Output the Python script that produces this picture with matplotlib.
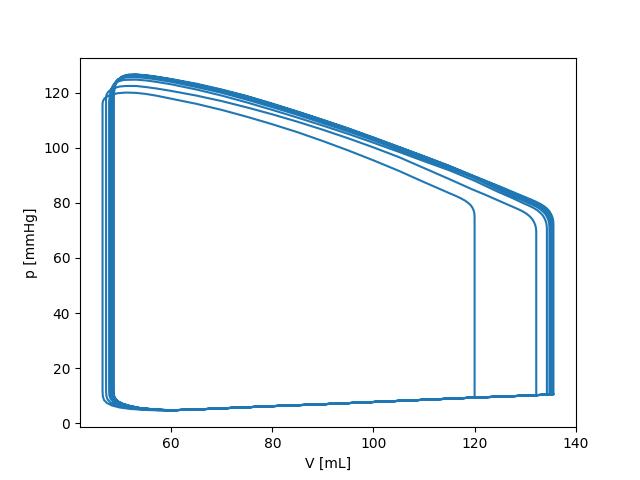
#!/usr/bin/env python3
"""
Pressure-volume loops of the left ventricle, settling into a steady cycle.

Usage:
    python3 plot.py
"""

import matplotlib

matplotlib.use("Agg")
import matplotlib.pyplot as plt

# End-diastolic / end-systolic volumes per beat [mL]
EDV = [120.0, 132.2, 134.3, 134.8, 135.1, 135.3, 135.5, 135.6]
ESV = [46.4, 47.1, 47.7, 48.0, 48.2, 48.4, 48.5, 48.6]
# pressure where isovolumic contraction starts [mmHg]
P_ED = [9.3, 10.2, 10.35, 10.4, 10.45, 10.45, 10.5, 10.5]

# ejection, right-hand corner (V falling from EDV)
V_CORNER_R = [
    [120.0, 119.95, 119.8, 119.55, 119.2, 118.7, 118.1, 117.3, 116.4],
    [132.2, 132.15, 132.0, 131.75, 131.4, 130.9, 130.3, 129.5, 128.6, 127.6, 125.0, 122.0, 119.5],
    [134.3, 134.25, 134.1, 133.85, 133.5, 133.0, 132.4, 131.6, 130.7, 129.7, 127.5, 124.5, 120.0],
    [134.8, 134.75, 134.6, 134.35, 134.0, 133.5, 132.9, 132.1, 131.2, 130.2, 127.9, 124.7, 120.0],
    [135.1, 135.05, 134.9, 134.65, 134.3, 133.8, 133.2, 132.4, 131.5, 130.5, 128.1, 124.8, 120.0],
    [135.3, 135.25, 135.1, 134.85, 134.5, 134.0, 133.4, 132.6, 131.7, 130.7, 128.3, 124.9, 120.0],
    [135.5, 135.45, 135.3, 135.05, 134.7, 134.2, 133.6, 132.8, 131.9, 130.9, 128.4, 125.0, 120.0],
    [135.6, 135.55, 135.4, 135.15, 134.8, 134.3, 133.7, 132.9, 132.0, 131.0, 128.5, 125.0, 120.0],
]
P_CORNER_R = [
    [75.0, 76.2, 77.3, 78.3, 79.2, 80.0, 80.8, 81.6, 82.4],
    [69.5, 70.7, 71.9, 73.0, 74.1, 75.1, 76.0, 76.9, 77.7, 78.5, 80.6, 83.0, 84.9],
    [70.8, 72.0, 73.2, 74.3, 75.4, 76.4, 77.3, 78.2, 79.0, 79.8, 81.7, 84.1, 88.0],
    [71.3, 72.5, 73.7, 74.8, 75.9, 76.9, 77.8, 78.7, 79.5, 80.3, 82.2, 84.8, 88.9],
    [71.7, 72.9, 74.1, 75.2, 76.3, 77.3, 78.2, 79.1, 79.9, 80.7, 82.6, 85.3, 89.2],
    [71.9, 73.1, 74.3, 75.4, 76.5, 77.5, 78.4, 79.3, 80.1, 80.9, 82.8, 85.5, 89.4],
    [72.1, 73.3, 74.5, 75.6, 76.7, 77.7, 78.6, 79.5, 80.3, 81.1, 83.0, 85.7, 89.5],
    [72.3, 73.5, 74.7, 75.8, 76.9, 77.9, 78.8, 79.7, 80.5, 81.3, 83.2, 85.9, 89.6],
]

# ejection, middle stretch on a shared volume grid
V_MID = [115, 110, 105, 100, 95, 90, 85, 80, 75, 70, 65, 60, 57, 55, 53]
P_MID = [
    [83.5, 87.5, 91.6, 95.4, 99.0, 102.4, 105.6, 108.5, 111.2, 113.7, 115.9, 117.8, 118.9, 119.5, 119.9],
    [88.6, 92.6, 96.6, 100.1, 103.4, 106.5, 109.4, 112.1, 114.6, 116.9, 118.9, 120.6, 121.5, 122.0, 122.4],
    [91.8, 95.1, 98.5, 101.8, 105.0, 108.0, 110.9, 113.7, 116.4, 118.9, 121.1, 123.0, 123.9, 124.4, 124.7],
    [92.6, 95.9, 99.3, 102.7, 105.9, 108.9, 111.9, 114.7, 117.4, 119.9, 122.0, 123.9, 124.8, 125.3, 125.6],
    [93.0, 96.3, 99.7, 103.1, 106.3, 109.4, 112.4, 115.1, 117.9, 120.3, 122.5, 124.3, 125.2, 125.7, 126.0],
    [93.2, 96.6, 100.0, 103.4, 106.6, 109.7, 112.7, 115.6, 118.3, 120.7, 122.8, 124.6, 125.5, 126.0, 126.3],
    [93.3, 96.8, 100.2, 103.6, 106.9, 110.0, 113.0, 115.8, 118.6, 120.9, 123.0, 124.8, 125.7, 126.2, 126.5],
    [93.4, 96.9, 100.3, 103.7, 107.0, 110.1, 113.1, 116.0, 118.7, 121.1, 123.2, 124.9, 125.8, 126.3, 126.6],
]

# end of ejection, left-hand corner (down to ESV)
V_CORNER_L = [
    [51.0, 49.5, 48.3, 47.4, 46.8, 46.5, 46.4],
    [51.0, 49.8, 48.8, 48.0, 47.5, 47.2, 47.1],
    [50.6, 49.6, 48.7, 48.1, 47.85, 47.7],
    [50.9, 49.9, 49.0, 48.4, 48.15, 48.0],
    [51.1, 50.1, 49.2, 48.6, 48.35, 48.2],
    [51.3, 50.3, 49.4, 48.8, 48.55, 48.4],
    [51.4, 50.4, 49.5, 48.9, 48.65, 48.5],
    [51.5, 50.5, 49.6, 49.0, 48.75, 48.6],
]
P_CORNER_L = [
    [120.0, 119.8, 119.3, 118.7, 117.9, 117.0, 116.0],
    [122.4, 122.2, 121.7, 121.0, 120.2, 119.3, 118.3],
    [124.6, 124.1, 123.0, 121.3, 119.1, 116.6],
    [125.5, 125.0, 123.9, 122.2, 120.0, 117.5],
    [125.9, 125.4, 124.3, 122.6, 120.4, 117.9],
    [126.2, 125.7, 124.6, 122.9, 120.7, 118.2],
    [126.4, 125.9, 124.8, 123.1, 120.9, 118.4],
    [126.5, 126.0, 124.9, 123.2, 121.0, 118.5],
]

# end of isovolumic relaxation, bending into filling
V_CORNER_B = [
    [46.4, 46.45, 46.7, 47.3, 48.3, 49.8, 51.8, 54.5, 57.5],
    [47.1, 47.15, 47.4, 48.0, 49.0, 50.5, 52.5, 55.0, 57.5],
    [47.7, 47.75, 48.0, 48.6, 49.6, 51.1, 53.0, 55.5, 57.5],
    [48.0, 48.05, 48.3, 48.9, 49.9, 51.4, 53.3, 55.7, 57.5],
    [48.2, 48.25, 48.5, 49.1, 50.1, 51.6, 53.5, 55.8, 57.5],
    [48.4, 48.45, 48.7, 49.3, 50.3, 51.8, 53.7, 56.0, 57.5],
    [48.5, 48.55, 48.8, 49.4, 50.4, 51.9, 53.8, 56.1, 57.5],
    [48.6, 48.65, 48.9, 49.5, 50.5, 52.0, 53.9, 56.2, 57.5],
]
P_CORNER_B = [
    [12.0, 9.8, 8.4, 7.3, 6.4, 5.7, 5.2, 4.85, 4.65],
    [12.0, 10.0, 8.6, 7.5, 6.6, 5.9, 5.3, 4.95, 4.75],
    [12.0, 10.1, 8.8, 7.7, 6.8, 6.0, 5.4, 5.0, 4.8],
    [12.0, 10.2, 8.9, 7.8, 6.9, 6.1, 5.45, 5.05, 4.85],
    [12.0, 10.2, 8.9, 7.8, 6.9, 6.1, 5.5, 5.1, 4.85],
    [12.0, 10.3, 9.0, 7.9, 7.0, 6.2, 5.5, 5.1, 4.9],
    [12.0, 10.3, 9.0, 7.9, 7.0, 6.2, 5.5, 5.1, 4.9],
    [12.0, 10.3, 9.0, 7.9, 7.0, 6.2, 5.5, 5.1, 4.9],
]

# passive filling curve shared by all beats
V_FILL = [60, 65, 70, 80, 90, 100, 110, 120, 130, 135.6]
P_FILL = [4.7, 5.0, 5.4, 6.2, 6.9, 7.7, 8.5, 9.3, 10.0, 10.5]


def build_path():
    """Chain the beats into one continuous V, p trace."""
    vs, ps = [], []
    n = len(EDV)
    for k in range(n):
        vs.append(EDV[k])
        ps.append(P_ED[k])
        vs += V_CORNER_R[k]
        ps += P_CORNER_R[k]
        vs += V_MID
        ps += P_MID[k]
        vs += V_CORNER_L[k]
        ps += P_CORNER_L[k]
        vs += V_CORNER_B[k]
        ps += P_CORNER_B[k]
        v_end = EDV[k + 1] if k + 1 < n else EDV[-1]
        p_end = P_ED[k + 1] if k + 1 < n else P_ED[-1]
        for v, p in zip(V_FILL, P_FILL):
            if v < v_end:
                vs.append(v)
                ps.append(p)
        vs.append(v_end)
        ps.append(p_end)
    return vs, ps


def main():
    vs, ps = build_path()

    fig, ax = plt.subplots(figsize=(6.4, 4.8), dpi=100)
    ax.plot(vs, ps, color="#1f77b4", linewidth=1.5)
    ax.set_xlabel("V [mL]")
    ax.set_ylabel("p [mmHg]")

    fig.savefig("out.png", dpi=100)
    plt.close(fig)


if __name__ == "__main__":
    main()
